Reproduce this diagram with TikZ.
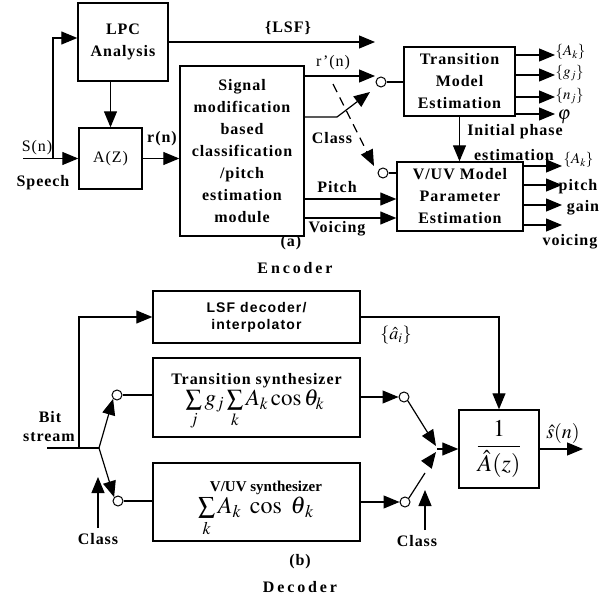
\documentclass[tikz,border=0pt]{standalone}
\usepackage{mathptmx}
\usepackage{fontspec}
\setmainfont{Liberation Serif}
\newfontfamily\lsans{Liberation Sans}
\usetikzlibrary{arrows.meta}
\newcommand\tb{\bfseries\addfontfeatures{LetterSpace=6}}
\newcommand\tr{\addfontfeatures{LetterSpace=6}}
\begin{document}
\begin{tikzpicture}[x=1pt,y=-1pt, line width=1.2pt, >={Triangle[length=16pt,width=13pt]},
 box/.style={draw, line width=1.4pt, inner sep=0pt, align=center, font=\fontsize{16}{22}\selectfont\tb},
 circ/.style={circle, draw, line width=1pt, inner sep=0pt, minimum size=9pt},
 lbl/.style={inner sep=0pt, font=\fontsize{16}{20}\selectfont\tb},
 lblr/.style={inner sep=0pt, font=\fontsize{16}{20}\selectfont\tr},
 mth/.style={inner sep=0pt, font=\fontsize{15}{18}\selectfont}]
\useasboundingbox (0,0) rectangle (611,599);
% ---------- Encoder ----------
\node[box, minimum width=90pt, minimum height=78pt] (lpc) at (123,42) {LPC\\Analysis};
\node[box, minimum width=63pt, minimum height=61pt, font=\fontsize{16}{20}\selectfont\tr] (az) at (110.5,158.5) {A(Z)};
\node[box, minimum width=124pt, minimum height=170pt] (sig) at (242,151) {Signal\\modification\\based\\classification\\/pitch\\estimation\\module};
\node[box, minimum width=111pt, minimum height=69pt] (trans) at (459.5,81.5) {Transition\\Model\\Estimation};
\node[box, minimum width=126pt, minimum height=69pt] (vuv) at (460,196.5) {V/UV Model\\Parameter\\Estimation};

\coordinate (sp) at (23,158.5);
\coordinate (br) at (53,158.5);
\draw[->] (sp) -- (az.west);
\draw[->] (br) |- ([yshift=4pt]lpc.west);
\draw[->] (lpc.south -| az.north) -- (az.north);
\draw[->] (az.east) -- (az.east -| sig.west);
\node[lblr] (sn) at (37,148) {S(n)};
\node[lbl] (speech) at (43,183) {Speech};
\node[lbl] (rn) at (162,139) {r(n)};

\coordinate (lsfe) at (375,42);
\draw[->] (lpc.east) -- (lsfe);
\node[lbl] (lsfl) at (288,28) {\{LSF\}};

\node[circ, minimum width=8pt, minimum height=10pt] (c1) at (381,82) {};
\coordinate (rps) at (304,76);
\coordinate (rpe) at (375,76);
\draw[->] (rps) -- (rpe);
\draw (c1) -- (c1 -| trans.west);
\node[lblr] (rpn) at (333,63) {r'(n)};

\coordinate (cl0) at (304,117);
\coordinate (cl1) at (337,117);
\coordinate (cle) at (370,92);
\draw[->] (cl0) -- (cl1) -- (cle);
\node[lbl] (classa) at (332,138) {Class};

\coordinate (ds) at (333,84);
\coordinate (de) at (374,166);
\draw[->, dash pattern=on 9pt off 6pt] (ds) -- (de);
\node[circ, minimum width=8pt, minimum height=10pt] (c2) at (383,173) {};
\draw (c2) -- (c2 -| vuv.west);

\draw[->] (trans.south) -- (trans.south |- vuv.north);
\node[lbl] (ip1) at (515,132) {Initial phase};
\node[lbl] (ip2) at (514,155) {estimation};

\foreach \yy/\nm in {55/t1,75/t2,97/t3,114/t4}{
  \coordinate (\nm s) at (515,\yy);
  \coordinate (\nm e) at (555,\yy);
  \draw[->] (\nm s) -- (\nm e);
}
\node[mth, anchor=west] (ak1) at (555,52) {$\{A_k\}$};
\node[mth, anchor=west] (gj) at (555,73) {$\{g_j\}$};
\node[mth, anchor=west] (nj) at (555,96) {$\{n_j\}$};
\node[mth, anchor=west, font=\fontsize{19}{20}\selectfont] (phi) at (557,117) {$\varphi$};

\foreach \yy/\nm in {166/v1,185/v2,205/v3,225/v4}{
  \coordinate (\nm s) at (523,\yy);
  \coordinate (\nm e) at (562,\yy);
  \draw[->] (\nm s) -- (\nm e);
}
\node[mth, anchor=west] (ak2) at (563,160) {$\{A_k\}$};
\node[lbl] (pitcho) at (578,187) {pitch};
\node[lbl] (gaino) at (583,208) {gain};
\node[lbl] (voico) at (570,242) {voicing};

\coordinate (pi0) at (304,199);
\coordinate (vo0) at (304,218);
\draw[->] (pi0) -- (pi0 -| vuv.west);
\draw[->] (vo0) -- (vo0 -| vuv.west);
\node[lbl] (pitchi) at (337,187) {Pitch};
\node[lbl] (voici) at (337,229) {Voicing};

\node[lbl] (la) at (291,243) {(a)};
\node[lbl, font=\fontsize{16}{20}\selectfont\bfseries\addfontfeatures{LetterSpace=18}] (enc) at (295,268) {Encoder};

% ---------- Decoder ----------
\node[box, font=\fontsize{14}{17}\selectfont\lsans\bfseries\addfontfeatures{LetterSpace=8}, minimum width=207pt, minimum height=52pt] (lsf) at (256.5,317) {LSF decoder/\\interpolator};
\node[box, minimum width=207pt, minimum height=79pt] (tsyn) at (256.5,397.5) {};
\node[lbl] (tsynt) at (256.5,381) {Transition synthesizer};
\node[inner sep=0pt, font=\fontsize{23}{25}\selectfont] (tsynf) at (255,410) {$\sum\limits_j g_j\sum\limits_k A_k\cos\theta_k$};
\node[box, minimum width=207pt, minimum height=78pt] (vsyn) at (256.5,502) {};
\node[lbl, font=\fontsize{15}{18}\selectfont\bfseries] (vsynt) at (266,488) {V/UV synthesizer};
\node[inner sep=0pt, font=\fontsize{24}{26}\selectfont] (vsynf) at (256,517) {$\sum\limits_{k}A_{k}\ \cos\ \theta_{\,k}$};
\node[box, minimum width=80pt, minimum height=78pt, font=\fontsize{24}{28}\selectfont] (inv) at (499,449) {$\displaystyle\frac{1}{\hat{A}(z)}$};

\coordinate (bs) at (47,448);
\coordinate (bj) at (79,448);
\coordinate (jn) at (99,448);
\draw (bs) -- (jn);
\draw[->] (bj) |- (lsf.west);
\node[lbl] (bit) at (50,417) {Bit};
\node[lbl] (stream) at (49,437) {stream};

\node[circ, minimum size=10pt] (c3) at (117,395) {};
\node[circ, minimum size=10pt] (c4) at (118,501) {};
\draw[->] (jn) -- (c3.south west);
\draw (c3.east) -- (c3.east -| tsyn.west);
\draw[->] (jn) -- (c4.north west);
\draw (c4.east) -- (c4.east -| vsyn.west);
\coordinate (lc0) at (98,528);
\coordinate (lc1) at (98,477);
\draw[->] (lc0) -- (lc1);
\node[lbl] (classl) at (98,539) {Class};

\node[circ, minimum size=10pt] (c5) at (404,397) {};
\node[circ, minimum size=10pt] (c6) at (405,502) {};
\draw[->] (c5 -| tsyn.east) -- (c5.west);
\draw[->] (c6 -| vsyn.east) -- (c6.west);
\coordinate (cvu) at (436,446);
\coordinate (cv) at (437,449);
\coordinate (bl) at (425,473);
\coordinate (lh0) at (427,464);
\coordinate (lh1) at (436,452);
\draw[->] (c5.south east) -- (cvu);
\draw (c6.north east) -- (bl);
\draw[->] (lh0) -- (lh1);
\draw[->] (cv) -- (inv.west);
\coordinate (rc0) at (425,530);
\coordinate (rc1) at (425,490);
\draw[->] (rc0) -- (rc1);
\node[lbl] (classr) at (417,541) {Class};

\draw[->] (lsf.east) -| (inv.north);
\node[inner sep=0pt, font=\fontsize{18}{20}\selectfont] (ahat) at (396,335) {$\{\hat a_i\}$};
\coordinate (sout) at (583,449);
\draw[->] (inv.east) -- (sout);
\node[inner sep=0pt, font=\fontsize{20}{22}\selectfont] (shat) at (563,433) {$\hat s(n)$};

\node[lbl] (lb) at (300,562) {(b)};
\node[lbl, font=\fontsize{16}{20}\selectfont\bfseries\addfontfeatures{LetterSpace=18}] (dec) at (300,587) {Decoder};
\end{tikzpicture}
\end{document}
